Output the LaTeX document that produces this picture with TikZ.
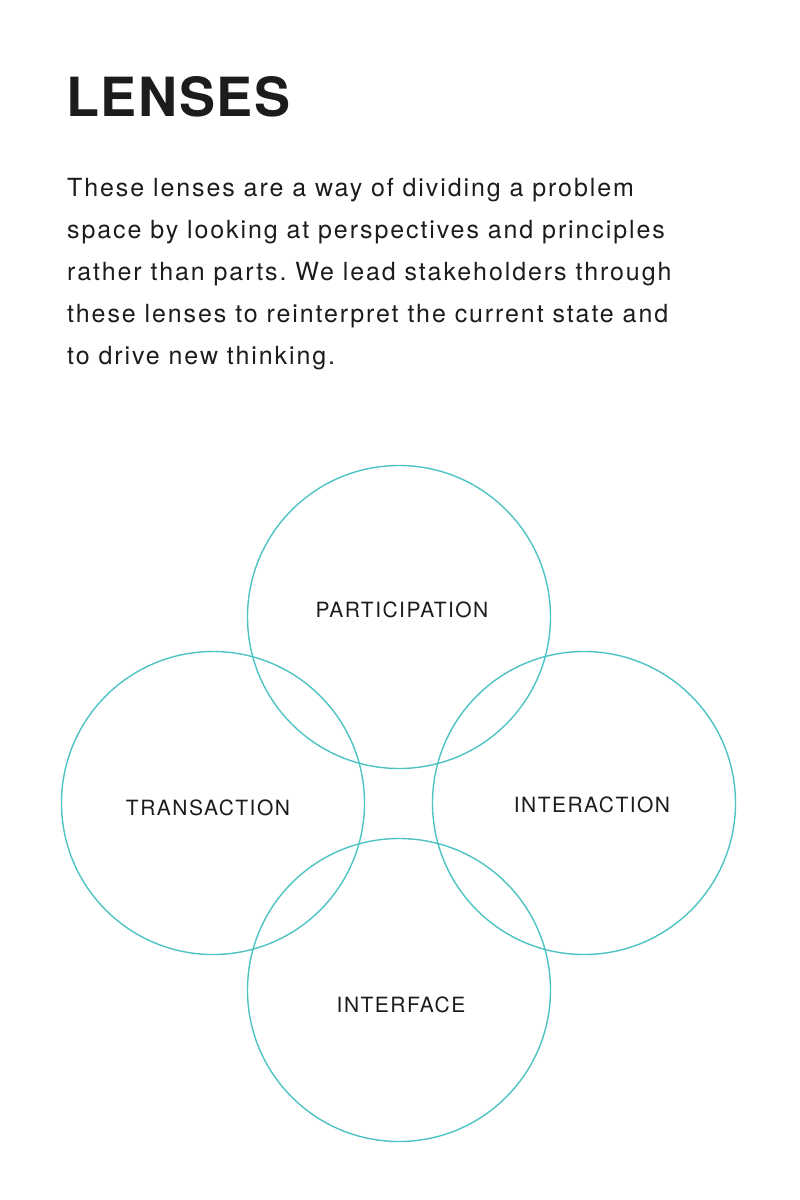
\documentclass[tikz,border=0pt]{standalone}
\usepackage{fontspec}
\setmainfont{TeX Gyre Heros}
\newfontfamily\labelfont[LetterSpace=7]{TeX Gyre Heros}
\newfontfamily\introfont[LetterSpace=7.6]{TeX Gyre Heros}
\newfontfamily\titlefont[LetterSpace=3]{TeX Gyre Heros}
\definecolor{lensteal}{HTML}{4EC3C3}
\definecolor{inkgrey}{HTML}{1C1C1C}
\frenchspacing
\begin{document}
\begin{tikzpicture}[
    x=1pt, y=-1pt,
    lens/.style={circle, draw=lensteal, line width=1.4pt, minimum size=303pt, inner sep=0pt},
    lenslabel/.style={anchor=base, inner sep=0pt, text=inkgrey, font=\labelfont\fontsize{21}{24}\selectfont}
]
\useasboundingbox (0,0) rectangle (800,1200);
\node[anchor=base west, inner sep=0pt, text=inkgrey, font=\titlefont\bfseries\fontsize{54}{60}\selectfont] (title) at (66,116) {LENSES};
\node[anchor=north west, inner sep=0pt, text=inkgrey, align=left,
      font=\introfont\fontsize{25}{42}\selectfont] (intro) at (67,178) {These lenses are a way of dividing a problem\\
space by looking at perspectives and principles\\
rather than parts. We lead stakeholders through\\
these lenses to reinterpret the current state and\\
to drive new thinking.};
% the four lenses
\node[lens] (participation) at (399,617) {};
\node[lens] (transaction) at (213,803) {};
\node[lens] (interaction) at (584,803) {};
\node[lens] (interface) at (399,990) {};
\node[lenslabel] (participationtext) at (402,617) {PARTICIPATION};
\node[lenslabel] (transactiontext) at (208,815) {TRANSACTION};
\node[lenslabel] (interactiontext) at (592,812) {INTERACTION};
\node[lenslabel] (interfacetext) at (401,1012) {INTERFACE};
\end{tikzpicture}
\end{document}
